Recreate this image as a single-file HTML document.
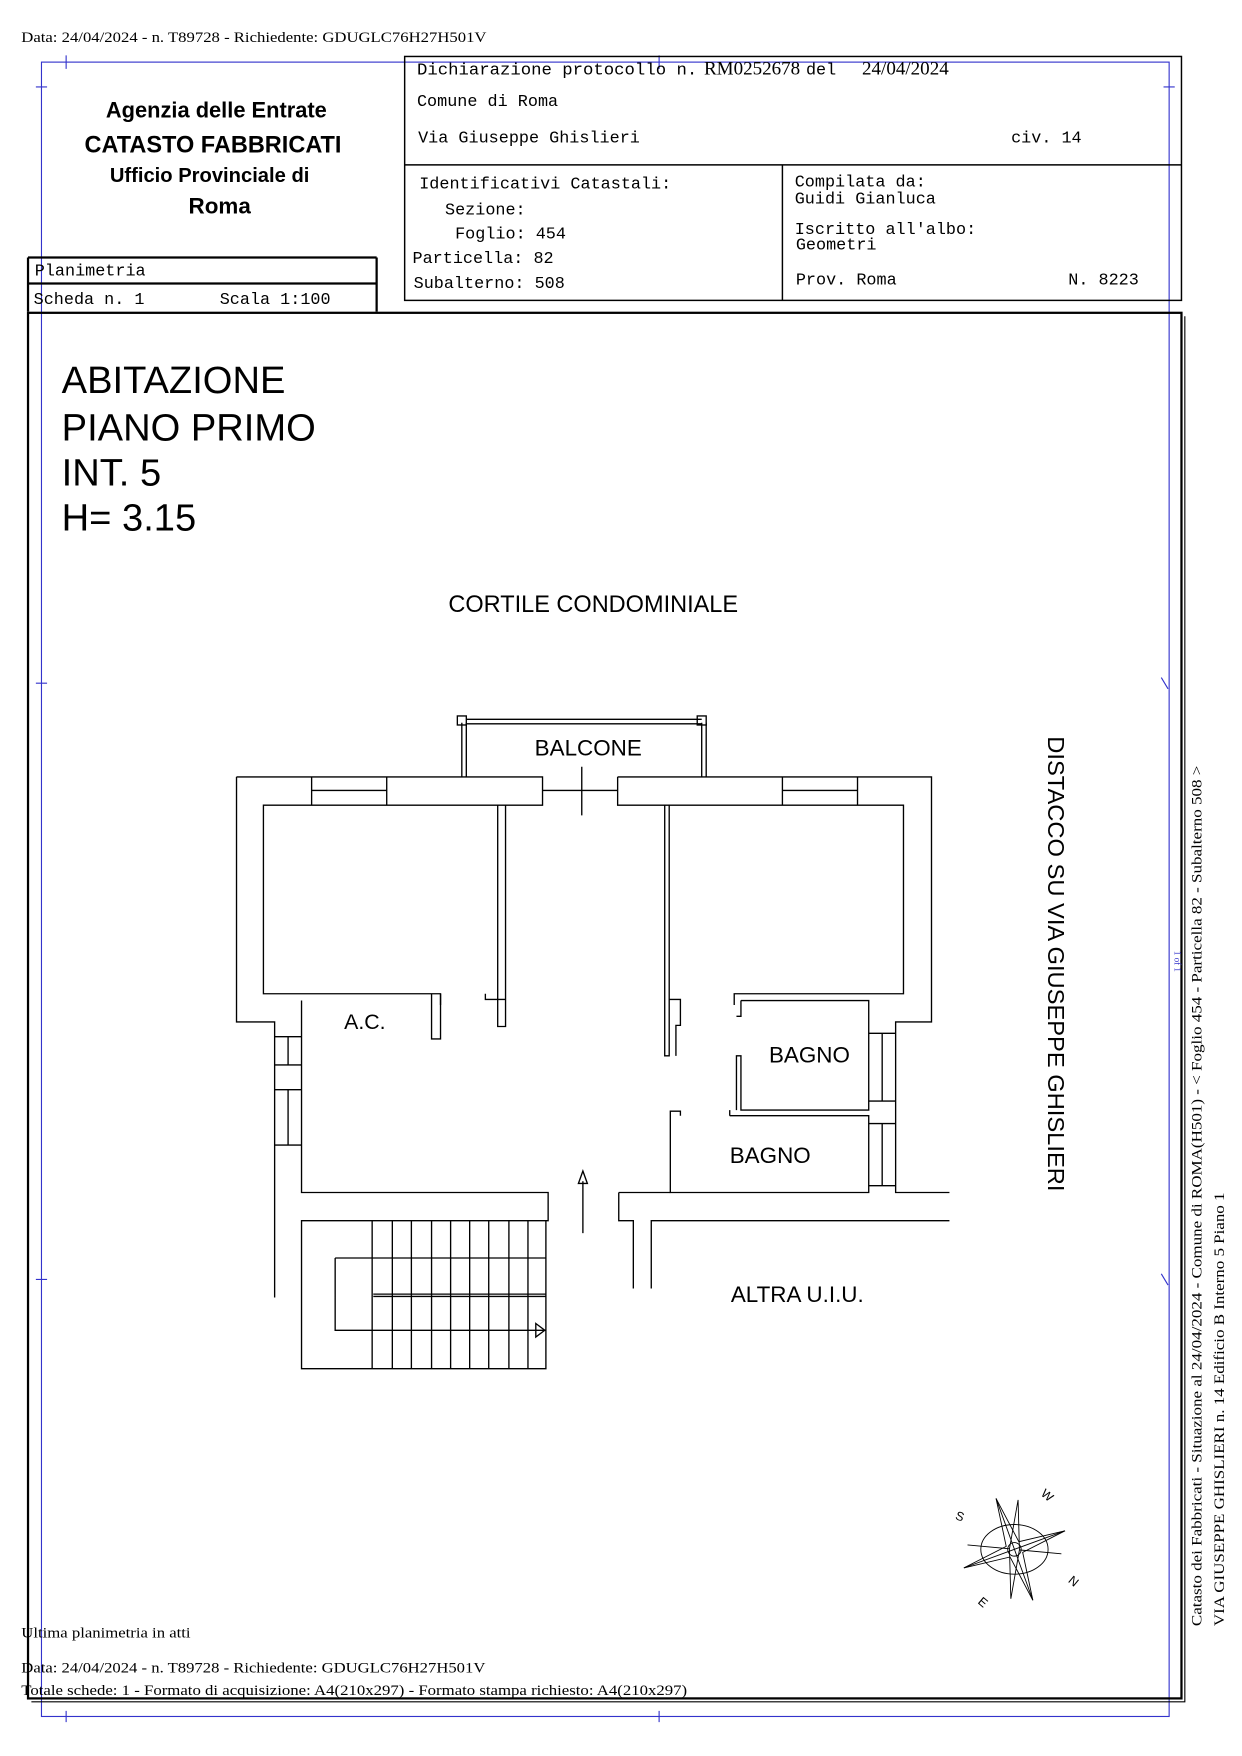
<!DOCTYPE html>
<html><head><meta charset="utf-8"><style>
body{margin:0;background:#fff}
svg{display:block}
.m{font-family:"Liberation Mono",monospace;font-size:15px}
.s{font-family:"Liberation Serif",serif}
.a{font-family:"Liberation Sans",sans-serif}
</style></head><body>
<svg width="1242" height="1756" viewBox="0 0 1108 1555" preserveAspectRatio="none" xmlns="http://www.w3.org/2000/svg">
<rect width="1108" height="1555" fill="#fff"/>
<text x="19" y="37" class="s" font-size="13" textLength="415" lengthAdjust="spacingAndGlyphs">Data: 24/04/2024 - n. T89728 - Richiedente: GDUGLC76H27H501V</text>
<g stroke="#33c" stroke-width="1" fill="none">
<rect x="37" y="55" width="1006" height="1465"/>
<path d="M59 49v12M32 77h10M1038 77h10M588 49v12M32 605h10M32 1133h10M1036 600l6 10M1036 1128l6 10M59 1515v10M588 1515v10"/>
</g>
<g stroke="#000" fill="none">
<rect x="361" y="50" width="693" height="216" stroke-width="1.3"/>
<path d="M361 146H1054M698 146V266" stroke-width="1.3"/>
<path d="M25 228H336M25 251H336M25 228V276M336 228V276" stroke-width="2"/>
<rect x="25" y="277" width="1029" height="1227" stroke-width="2"/>
<path d="M1057 280V1507H28" stroke-width="1"/>
</g>
<g class="a" font-weight="bold" text-anchor="middle">
<text x="193" y="104" font-size="19.5">Agenzia delle Entrate</text>
<text x="190" y="135" font-size="21">CATASTO FABBRICATI</text>
<text x="187" y="161" font-size="18">Ufficio Provinciale di</text>
<text x="196" y="189" font-size="20">Roma</text>
</g>
<g class="m">
<text x="372" y="66" textLength="250" lengthAdjust="spacingAndGlyphs">Dichiarazione protocollo n.</text>
<text x="628" y="66" class="s" font-size="17">RM0252678</text>
<text x="719" y="66">del</text>
<text x="769" y="66" class="s" font-size="17">24/04/2024</text>
<text x="372" y="94">Comune di Roma</text>
<text x="373" y="126">Via Giuseppe Ghislieri</text>
<text x="902" y="126">civ. 14</text>
<text x="374" y="167">Identificativi Catastali:</text>
<text x="397" y="190">Sezione:</text>
<text x="406" y="211">Foglio: 454</text>
<text x="368" y="233">Particella: 82</text>
<text x="369" y="255">Subalterno: 508</text>
<text x="709" y="165">Compilata da:</text>
<text x="709" y="180">Guidi Gianluca</text>
<text x="709" y="207">Iscritto all'albo:</text>
<text x="710" y="221">Geometri</text>
<text x="710" y="252">Prov. Roma</text>
<text x="953" y="252">N. 8223</text>
<text x="31" y="244">Planimetria</text>
<text x="30" y="269">Scheda n. 1</text>
<text x="196" y="269">Scala 1:100</text>
</g>
<g class="a" font-size="34">
<text x="55" y="348">ABITAZIONE</text>
<text x="55" y="390">PIANO PRIMO</text>
<text x="55" y="430">INT. 5</text>
<text x="55" y="470">H= 3.15</text>
</g>
<g class="a" font-size="19">
<text x="400" y="542" font-size="21">CORTILE CONDOMINIALE</text>
<text x="477" y="669" font-size="20">BALCONE</text>
<text x="307" y="911">A.C.</text>
<text x="686" y="941" font-size="20">BAGNO</text>
<text x="651" y="1030" font-size="20">BAGNO</text>
<text x="652" y="1153" font-size="20">ALTRA U.I.U.</text>
<text transform="translate(935,652) rotate(90)" font-size="21">DISTACCO SU VIA GIUSEPPE GHISLIERI</text>
</g>
<g class="s" font-size="13">
<text transform="translate(1072,1440) rotate(-90)" textLength="762" lengthAdjust="spacingAndGlyphs">Catasto dei Fabbricati - Situazione al 24/04/2024 - Comune di ROMA(H501) - &lt; Foglio 454 - Particella 82 - Subalterno 508 &gt;</text>
<text transform="translate(1092,1440) rotate(-90)" textLength="384" lengthAdjust="spacingAndGlyphs">VIA GIUSEPPE GHISLIERI n. 14 Edificio B Interno 5 Piano 1</text>
<text x="19" y="1450" textLength="151" lengthAdjust="spacingAndGlyphs">Ultima planimetria in atti</text>
<text x="19" y="1481" textLength="414" lengthAdjust="spacingAndGlyphs">Data: 24/04/2024 - n. T89728 - Richiedente: GDUGLC76H27H501V</text>
<text x="19" y="1501" textLength="594" lengthAdjust="spacingAndGlyphs">Totale schede: 1 - Formato di acquisizione: A4(210x297)  - Formato stampa richiesto: A4(210x297)</text>
</g>
<text transform="translate(1048,842) rotate(90)" class="s" font-size="8" fill="#33c">1 of 1</text>
<g stroke="#000" stroke-width="1.2" fill="none">
<path d="M211 688H484V713H235V880H393V890M211 688V905H245V1149"/>
<path d="M278 688V713M345 688V713M278 700H345"/>
<path d="M444 713V909H451V885H433V880M451 713V909"/>
<path d="M385 880V920H393V880"/>
<path d="M269 886V1056H489V1081H269V1212H487V1081"/>
<path d="M245 918H269M245 943H269M245 965H269M245 1014H269M257 918V943M257 965V1014"/>
<path d="M412 640V688M416 640V688M626 640V688M630 640V688M416 637H626M416 641H626"/>
<rect x="408" y="634" width="8" height="8"/><rect x="622" y="634" width="8" height="8"/>
<path d="M484 700H551M519 679V722"/>
<path d="M551 688H831V905H799V1056H847M551 688V713H597V935H593V713"/>
<path d="M698 688V713M765 688V713M698 700H765"/>
<path d="M597 713H806V880H655V890M806 713V880"/>
<path d="M597 885H607V908H603V935"/>
<path d="M661 886H775V983H661V935H657V983M661 886V900H657"/>
<path d="M651 988H775V1056H598V984H607V988M651 988V983"/>
<path d="M775 915H799M775 975H799M775 995H799M775 1050H799M787 915V975M787 995V1050"/>
<path d="M552 1056H598M552 1056V1081H565V1141M581 1141V1081H847"/>
<path d="M520 1092V1046"/><path d="M516 1048L520 1037L524 1048Z"/>
<path d="M299 1114H487M299 1114V1178H487M333 1146H487M333 1148H487M332 1081V1212M350 1081V1212M367 1081V1212M385 1081V1212M402 1081V1212M419 1081V1212M436 1081V1212M454 1081V1212M471 1081V1212"/>
<path d="M478 1172L486 1178L478 1184Z"/>
</g>
<g stroke="#000" stroke-width="0.8" fill="none" transform="translate(905,1372)">
<ellipse cx="0" cy="0" rx="30" ry="22"/>
<g transform="rotate(-20)">
<path d="M-48 0L-6 -5L0 -48L6 -5L48 0L6 5L0 48L-6 5Z"/>
<path d="M-38 -18L-4 -2L18 -40L4 2L38 18L4 2L-18 40L-4 -2Z"/>
<path d="M-48 0H48M0 -48V48"/>
</g>
<circle r="6"/>
</g>
<g class="a" font-size="11">
<text x="853" y="1347" transform="rotate(20 858 1342)">S</text>
<text x="930" y="1328" transform="rotate(40 935 1323)">W</text>
<text x="954" y="1404" transform="rotate(40 958 1400)">N</text>
<text x="874" y="1423" transform="rotate(40 878 1418)">E</text>
</g>
</svg>
</body></html>
